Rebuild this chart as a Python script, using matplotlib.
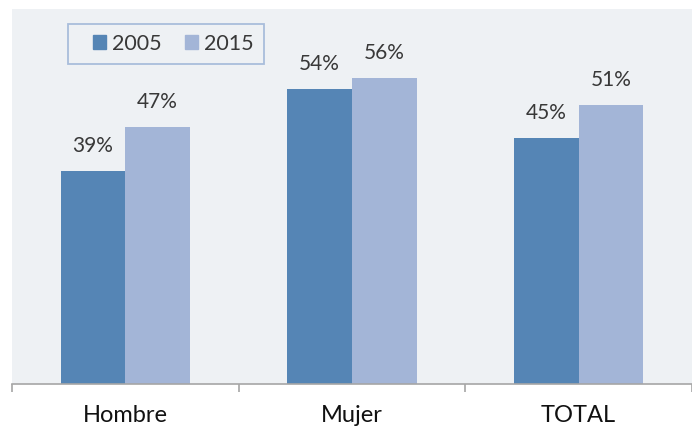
import matplotlib
matplotlib.use("Agg")
import matplotlib.pyplot as plt
import numpy as np
from matplotlib.patches import Patch, Rectangle

categories = ["Hombre", "Mujer", "TOTAL"]
series_names = ["2005", "2015"]
values_2005 = [39, 54, 45]
values_2015 = [47, 56, 51]

c_dark = "#5585b5"
c_light = "#a3b5d7"
bg = "#eef1f4"
txt = "#383838"

plt.rcParams['font.family'] = ['Lato', 'DejaVu Sans']

W, H = 692, 432
fig = plt.figure(figsize=(W / 100, H / 100), dpi=100)
ax = fig.add_axes([12 / W, (H - 384) / H, (692 - 12) / W, (384 - 9) / H])
ax.set_facecolor(bg)

x = np.arange(len(categories))
bw = 66 / 231
b1 = ax.bar(x - bw / 2, values_2005, bw, color=c_dark, label=series_names[0])
b2 = ax.bar(x + bw / 2, values_2015, bw, color=c_light, label=series_names[1])

for bars, vals in ((b1, values_2005), (b2, values_2015)):
    for r, v in zip(bars, vals):
        ax.annotate(f"{v}%", (r.get_x() + r.get_width() / 2, v),
                    xytext=(0, 10.5), textcoords="offset points",
                    ha="center", va="bottom", fontsize=15, color=txt)

ax.set_xlim(-0.5, -0.5 + (692 - 12) / 231)
ax.set_ylim(0, (384 - 9) / 5.47)

for s in ("top", "right", "left"):
    ax.spines[s].set_visible(False)
ax.spines["bottom"].set_color("#a6a6a6")
ax.spines["bottom"].set_linewidth(1.2)

ax.set_yticks([])
ax.set_xticks(x)
ax.set_xticklabels(categories, fontsize=17, color="#111111")
ax.tick_params(axis="x", which="major", length=0, pad=15)
ax.set_xticks(np.arange(-0.5, 3.0, 1.0), minor=True)
ax.tick_params(axis="x", which="minor", length=6, width=1.2, color="#a6a6a6", direction="out")

handles = [Patch(color=c_dark), Patch(color=c_light)]
leg = ax.legend(handles, series_names, loc="center left",
                bbox_to_anchor=(93 / W, 1 - 44 / H), bbox_transform=fig.transFigure,
                ncol=2, frameon=False, fontsize=15.5,
                handlelength=0.6, handleheight=0.62, handletextpad=0.3,
                columnspacing=1.05, borderpad=0, borderaxespad=0)
for t in leg.get_texts():
    t.set_color(txt)

fig.add_artist(Rectangle((68 / W, 1 - 64 / H), 196 / W, 40 / H,
                         transform=fig.transFigure, fill=False,
                         edgecolor="#a9bddb", linewidth=1.3))

fig.savefig("out.png", dpi=100)
